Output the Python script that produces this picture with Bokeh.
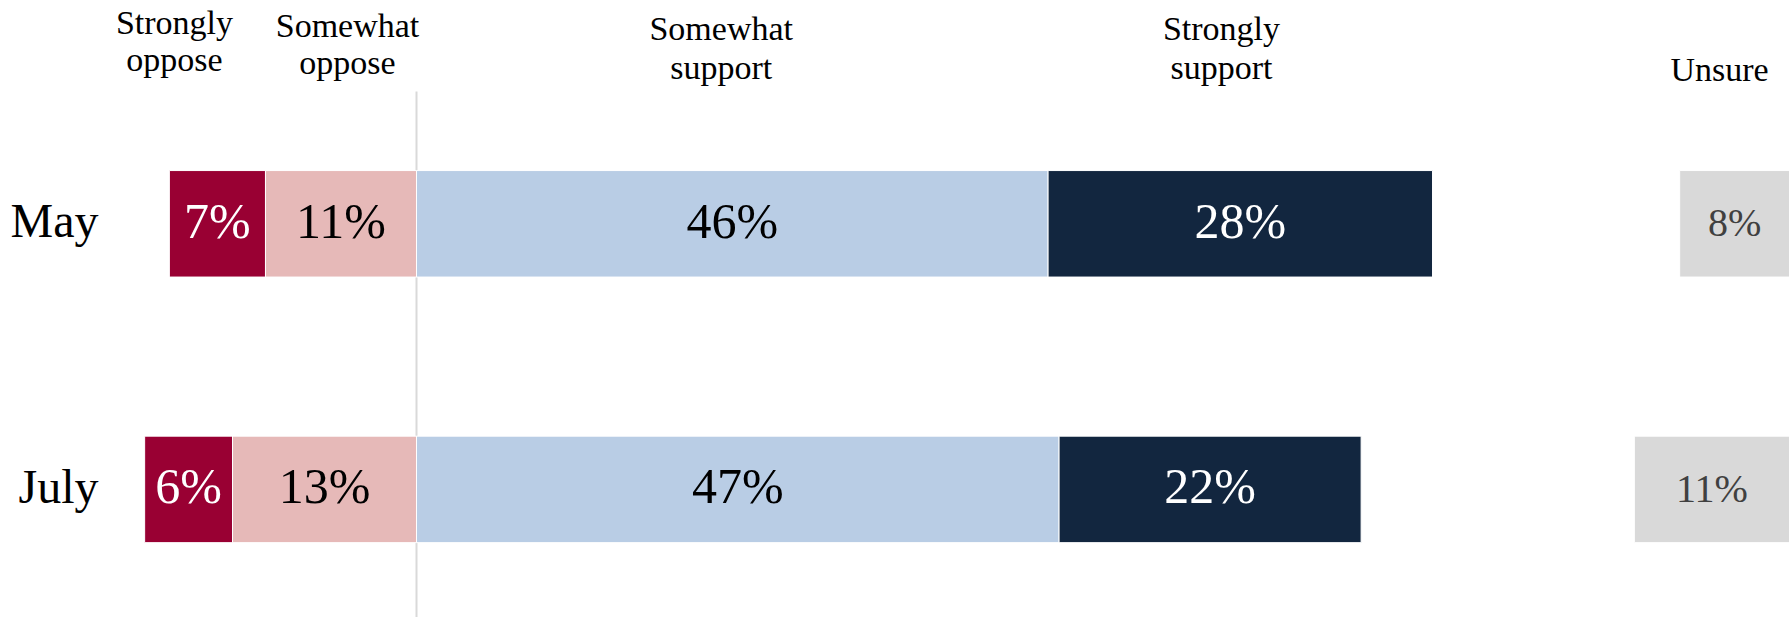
from bokeh.plotting import figure
from bokeh.models import Range1d, ColumnDataSource
from bokeh.core.properties import value
from bokeh.embed import file_html
from bokeh.resources import INLINE

# ---------------- data ----------------
months = ["May", "July"]
categories = ["Strongly oppose", "Somewhat oppose", "Somewhat support", "Strongly support", "Unsure"]
strongly_oppose = [7.0, 6.4]
somewhat_oppose = [11.0, 13.4]
somewhat_support = [46.0, 46.8]
strongly_support = [28.0, 22.0]
unsure = [8.0, 11.3]

colors = ["#990033", "#E6B9B8", "#B9CDE5", "#12263F", "#D9D9D9"]
text_colors = ["white", "black", "black", "white", "#404040"]

# ---------------- layout ----------------
W, H = 1789, 617
ZERO_PX = 416.0          # px where 0% sits
SX = (W - ZERO_PX) / 100.0
X0 = -ZERO_PX / SX
ROW0_PX = 223.3          # px (from top) of first row centre
SY = 265.6               # px per row
Y_TOP = -ROW0_PX / SY
Y_BOTTOM = (H - ROW0_PX) / SY
FONT = value("Liberation Serif")


def fx(px):
    return X0 + px / SX


def fy(py):
    return (py - ROW0_PX) / SY


p = figure(width=W, height=H, x_range=Range1d(X0, 100), y_range=Range1d(Y_BOTTOM, Y_TOP),
           output_backend="svg", toolbar_location=None, min_border=0)
p.outline_line_color = None
p.axis.visible = False
p.grid.visible = False
p.background_fill_color = "white"
p.border_fill_color = "white"

rows = list(range(len(months)))

# zero line
p.segment(x0=[0], y0=[fy(91)], x1=[0], y1=[Y_BOTTOM], line_color="#D9D9D9", line_width=2)

segments = []
for i in rows:
    so, mo, ms, ss, un = strongly_oppose[i], somewhat_oppose[i], somewhat_support[i], strongly_support[i], unsure[i]
    segments.append([(-(so + mo), -mo), (-mo, 0.0), (0.0, ms), (ms, ms + ss), (100.0 - un, 100.0)])

values_all = [strongly_oppose, somewhat_oppose, somewhat_support, strongly_support, unsure]
BAR_H = 106.5 / SY
for k in range(len(categories)):
    off = -1.0 if k == 4 else -3.0
    src = ColumnDataSource(dict(
        y=rows,
        left=[segments[i][k][0] for i in rows],
        right=[segments[i][k][1] for i in rows],
        xc=[(segments[i][k][0] + segments[i][k][1]) / 2 for i in rows],
        ty=[r + off / SY for r in rows],
        lab=[f"{values_all[k][i]:.0f}%" for i in rows],
    ))
    p.hbar(y="y", left="left", right="right", height=BAR_H, source=src,
           fill_color=colors[k], line_color="white", line_width=1)
    p.text(x="xc", y="ty", text="lab", source=src, text_align="center", text_baseline="middle",
           text_font=FONT, text_font_size="40px" if k == 4 else "50px", text_color=text_colors[k])

# month labels
p.text(x=[fx(98)] * len(rows), y=[r - 3.0 / SY for r in rows], text=months,
       text_align="right", text_baseline="middle", text_font=FONT,
       text_font_size="48px", text_color="black")

# column headers (baseline px positions, converted to middle)
head_x = [174, 347, 720.7, 1221, 1719]
head_b1 = [33.3, 36.0, 39.3, 39.3, 41.0]
head_b2 = [70.7, 73.3, 78.0, 78.0, 80.5]
HFS = 34
MID = 0.3375 * HFS
hx, hy, ht = [], [], []
for k, name in enumerate(categories):
    parts = name.split(" ")
    if len(parts) == 1:
        hx.append(fx(head_x[k])); hy.append(fy(head_b2[k] - MID)); ht.append(parts[0])
    else:
        hx.append(fx(head_x[k])); hy.append(fy(head_b1[k] - MID)); ht.append(parts[0])
        hx.append(fx(head_x[k])); hy.append(fy(head_b2[k] - MID)); ht.append(parts[1])
p.text(x=hx, y=hy, text=ht, text_align="center", text_baseline="middle",
       text_font=FONT, text_font_size=f"{HFS}px", text_color="black")

open("out.html", "w").write(file_html(p, INLINE))
